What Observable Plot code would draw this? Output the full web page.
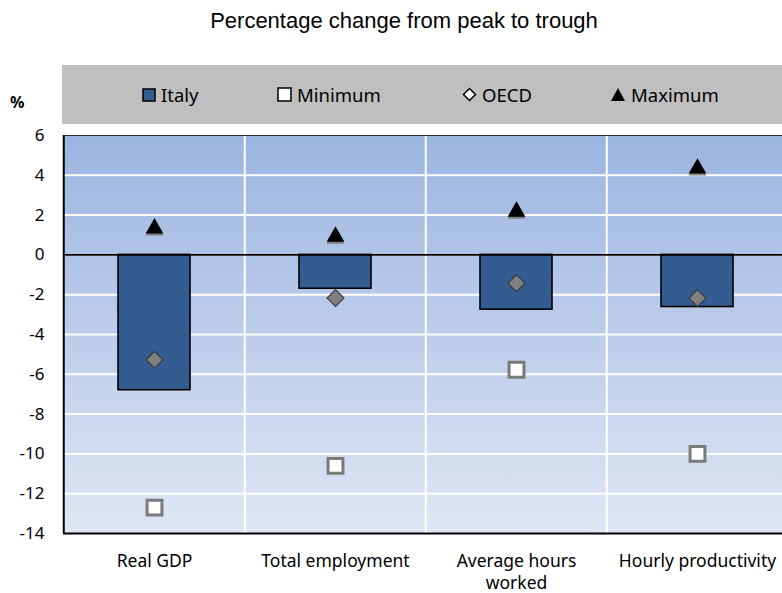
<!DOCTYPE html>
<html>
<head>
<meta charset="utf-8">
<script src="https://cdn.jsdelivr.net/npm/d3@7"></script>
<script src="https://cdn.jsdelivr.net/npm/@observablehq/plot@0.6"></script>
<style>
  html, body { margin: 0; padding: 0; background: #fff; overflow: hidden; }
  body { width: 782px; height: 593px; position: relative; font-family: "Noto Sans", sans-serif; color: #000; }
  #title { position: absolute; left: 0; top: 8px; width: 808px; text-align: center; font-family: "Liberation Sans", Arial, sans-serif; font-size: 22px; line-height: 26px; }
  #legend { position: absolute; left: 62px; top: 65px; width: 720px; height: 59px; background: #bfbfbf; }
  .item { position: absolute; top: 0; height: 59px; display: flex; align-items: center; font-size: 18.5px; }
  .item svg { margin-right: 5px; }
  #pct { position: absolute; left: 10px; top: 91px; font-weight: bold; font-size: 16px; }
  #chart { position: absolute; left: 0; top: 124px; width: 782px; height: 469px; overflow: hidden; }
  #chart svg { max-width: none !important; }
</style>
</head>
<body>
<div id="title">Percentage change from peak to trough</div>
<div id="pct">%</div>
<div id="legend"></div>
<div id="chart"></div>
<script>
// ---- data ----
const categories = ["Real GDP", "Total employment", "Average hours worked", "Hourly productivity"];
const italy   = [-6.8, -1.7, -2.75, -2.62];
const minimum = [-12.7, -10.6, -5.77, -10.0];
const oecd    = [-5.27, -2.17, -1.42, -2.17];
const maximum = [1.46, 1.05, 2.3, 4.47];
const yTicks  = [-14, -12, -10, -8, -6, -4, -2, 0, 2, 4, 6];
const seriesNames = ["Italy", "Minimum", "OECD", "Maximum"];
const legendX = [142, 277, 462, 610]; // legend item left positions (px)

const rows = categories.map((c, i) => ({
  cat: c, italy: italy[i], minimum: minimum[i], oecd: oecd[i], maximum: maximum[i]
}));

// ---- legend ----
const legendSymbols = {
  Italy: '<svg width="14" height="14"><rect x="1" y="1" width="12" height="12" fill="#335d91" stroke="#000" stroke-width="1.5"/></svg>',
  Minimum: '<svg width="15" height="15"><rect x="1" y="1" width="13" height="13" fill="#fff" stroke="#000" stroke-width="1.5"/></svg>',
  OECD: '<svg width="15" height="15"><path d="M7.5 1.5 L13.5 7.5 L7.5 13.5 L1.5 7.5 Z" fill="#fff" stroke="#000" stroke-width="1.5"/></svg>',
  Maximum: '<svg width="16" height="15"><path d="M8 1 L15 14 L1 14 Z" fill="#000"/></svg>'
};
const legend = document.getElementById("legend");
seriesNames.forEach((name, i) => {
  const el = document.createElement("div");
  el.className = "item";
  el.style.left = (legendX[i] - 62) + "px";
  el.innerHTML = legendSymbols[name] + "<span>" + name + "</span>";
  legend.appendChild(el);
});

// ---- chart ----
const W = 789, H = 469;
const mL = 63, mR = 0, mT = 11, mB = 60;
const step = (W - mL - mR) / categories.length;

const svg = Plot.plot({
  width: W,
  height: H,
  marginLeft: mL,
  marginRight: mR,
  marginTop: mT,
  marginBottom: mB,
  style: { fontFamily: "Noto Sans, sans-serif", fontSize: "17px", color: "#000", overflow: "visible", maxWidth: "none" },
  x: { domain: categories, paddingInner: 0.6, paddingOuter: 0.3, label: null },
  y: { domain: [-14, 6], label: null },
  marks: [
    Plot.frame({ fill: "url(#bggrad)", stroke: null }),
    Plot.ruleY(yTicks.slice(1, -1), { stroke: "#fff", strokeWidth: 2 }),
    Plot.ruleX(categories.slice(1), { dx: -step / 2, stroke: "#fff", strokeWidth: 2 }),
    Plot.barY(rows, { x: "cat", y: "italy", fill: "#335d91", stroke: "#000", strokeWidth: 1.6 }),
    Plot.ruleY([0], { stroke: "#000", strokeWidth: 1.8 }),
    Plot.ruleY([6], { stroke: "#333", strokeWidth: 1.2 }),
    Plot.ruleY([-14], { stroke: "#000", strokeWidth: 2 }),
    Plot.ruleX([categories[0]], { dx: -step / 2, stroke: "#000", strokeWidth: 2, y1: -14, y2: 6 }),
    // minimum squares
    Plot.dot(rows, { x: "cat", y: "minimum", symbol: "square", r: 8.4, fill: "#fff", stroke: "#7a7a7a", strokeWidth: 3 }),
    // OECD diamonds
    Plot.dot(rows, { x: "cat", y: "oecd", symbol: "diamond2", r: 7.6, fill: "#808080", stroke: "#3a3a3a", strokeWidth: 1.2 }),
    // maximum triangles with gray shadow underneath
    Plot.dot(rows, { x: "cat", y: "maximum", symbol: "triangle", r: 6.6, fill: "#808080", dy: 4.5 }),
    Plot.dot(rows, { x: "cat", y: "maximum", symbol: "triangle", r: 6.6, fill: "#000", dy: 2.5 }),
    Plot.axisY({ ticks: yTicks, tickSize: 0, tickPadding: 19, fontSize: 17, tickFormat: d => String(d) }),
    Plot.axisX({ tickSize: 0, tickPadding: 17, fontSize: 17.5, lineHeight: 1.3,
      tickFormat: d => d === "Average hours worked" ? "Average hours\nworked" : d })
  ]
});

const defs = d3.select(svg).insert("defs", ":first-child");
const grad = defs.append("linearGradient").attr("id", "bggrad")
  .attr("x1", 0).attr("y1", 0).attr("x2", 0).attr("y2", 1);
grad.append("stop").attr("offset", "0%").attr("stop-color", "#9bb5e1");
grad.append("stop").attr("offset", "100%").attr("stop-color", "#dfe6f4");

document.getElementById("chart").appendChild(svg);
</script>
</body>
</html>
